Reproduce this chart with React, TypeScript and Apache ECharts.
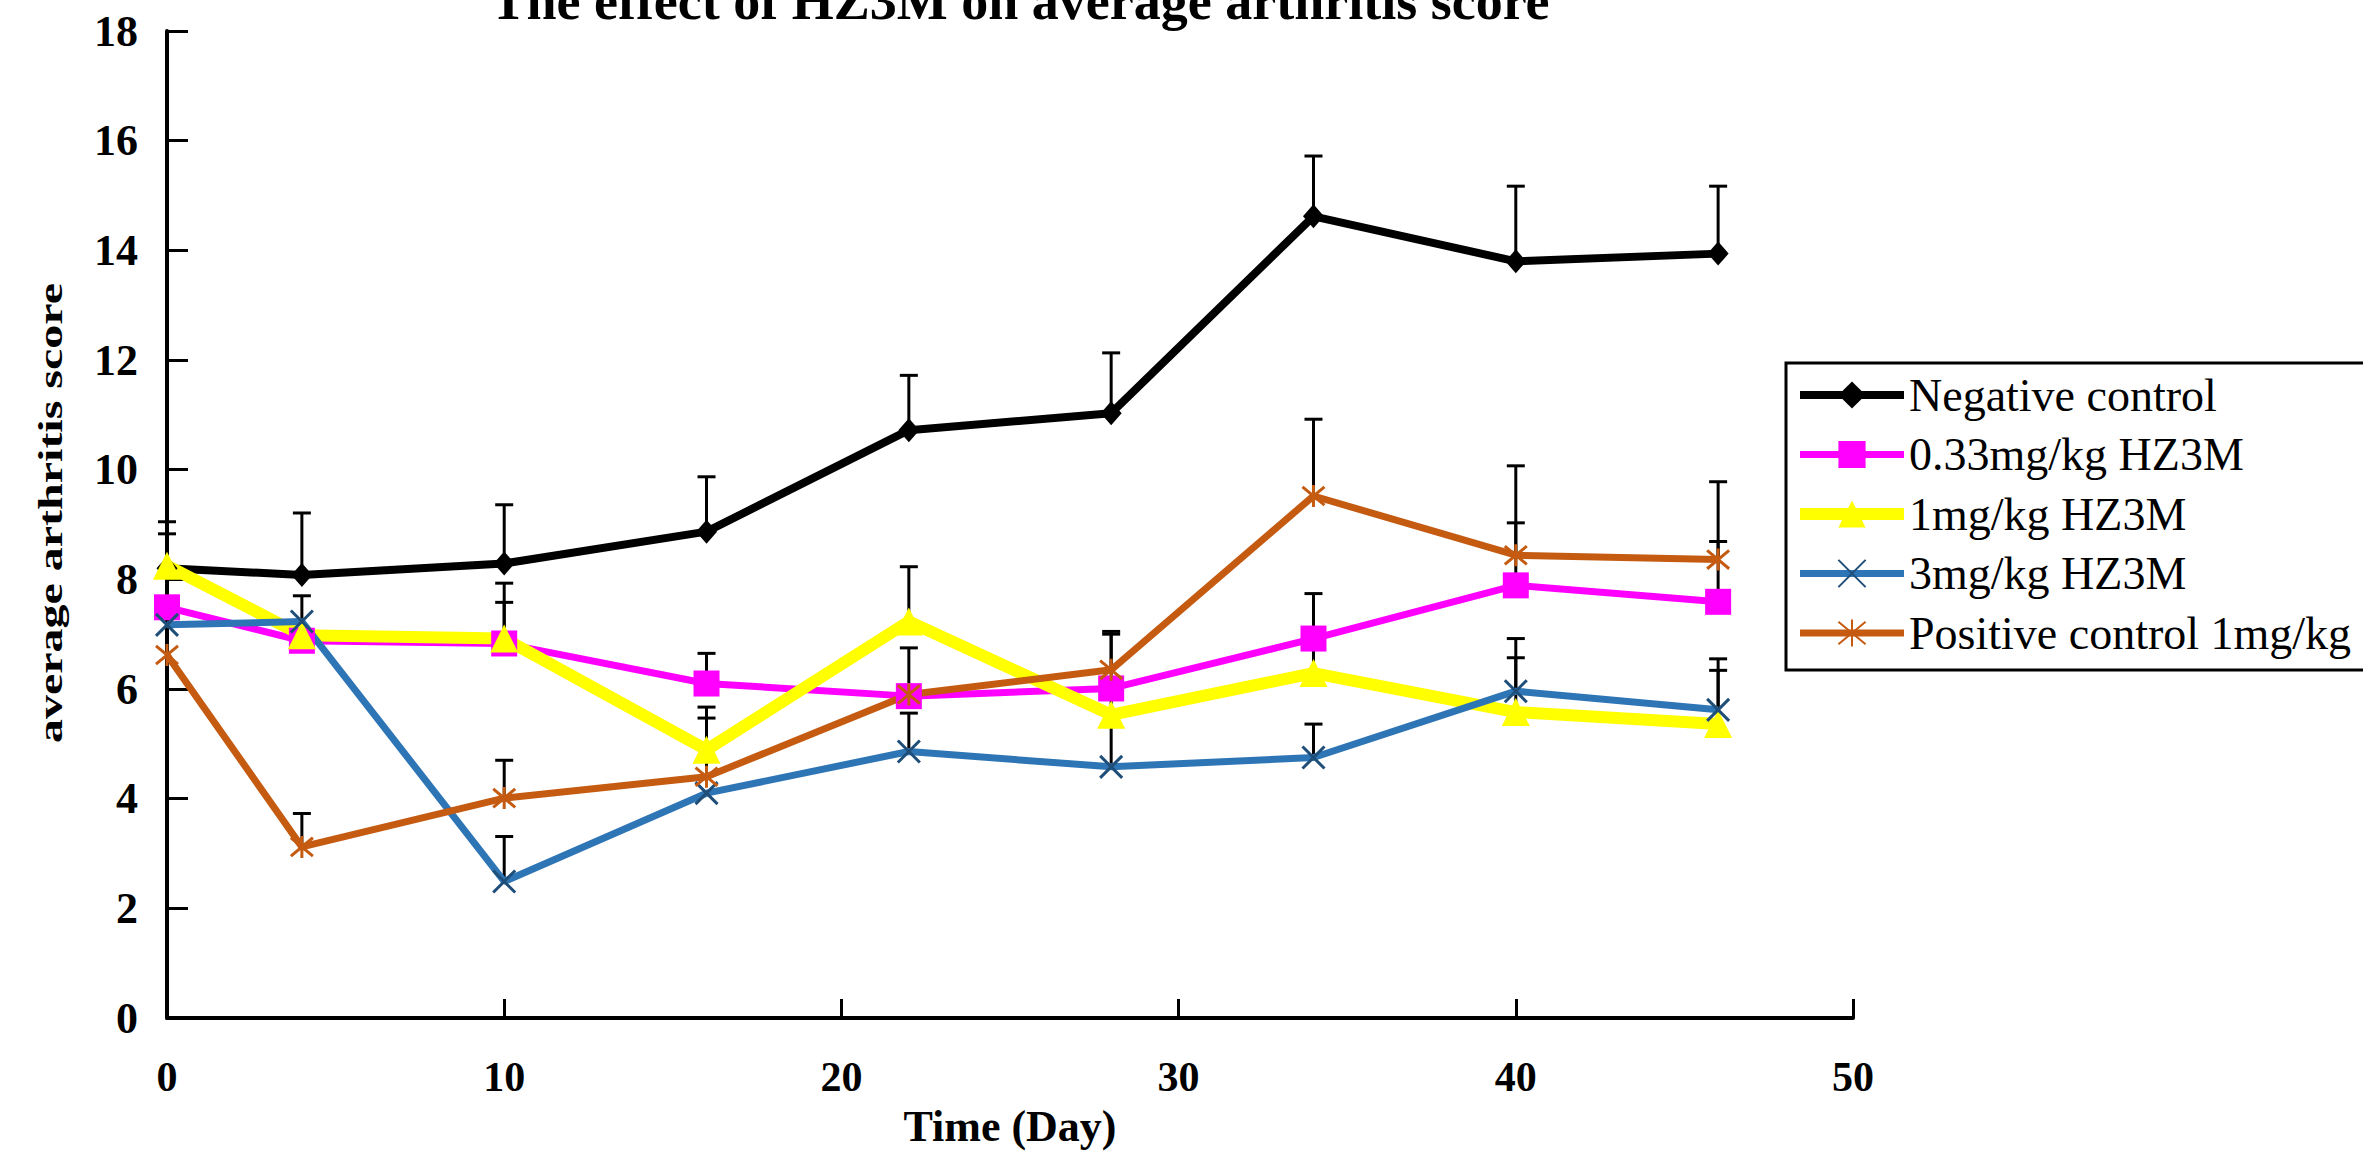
import React, { useEffect, useRef } from 'react';
import * as echarts from 'echarts';

// ---- data ----
const days = [0, 4, 10, 16, 22, 28, 34, 40, 46];
const seriesNames = ['Negative control', '0.33mg/kg HZ3M', '1mg/kg HZ3M', '3mg/kg HZ3M', 'Positive control 1mg/kg'];

const negativeControl = [8.2, 8.08, 8.29, 8.87, 10.72, 11.03, 14.62, 13.8, 13.94];
const negativeControlErr = [0.85, 1.13, 1.07, 1.0, 1.0, 1.1, 1.1, 1.37, 1.23];
const dose033 = [7.49, 6.88, 6.83, 6.1, 5.87, 6.01, 6.92, 7.89, 7.59];
const dose033Err = [null, null, 0.75, 0.55, 0.88, null, 0.82, 1.14, 1.1];
const dose1 = [8.25, 6.98, 6.92, 4.89, 7.23, 5.53, 6.29, 5.58, 5.36];
const dose1Err = [0.58, 0.72, 1.01, 0.78, 1.0, 1.47, 0.6, 0.99, 0.98];
const dose3 = [7.17, 7.23, 2.49, 4.1, 4.86, 4.58, 4.75, 5.96, 5.62];
const dose3Err = [null, null, 0.82, null, 0.7, 1.0, 0.61, 0.96, 0.93];
const positiveControl = [6.62, 3.12, 4.01, 4.4, 5.9, 6.35, 9.52, 8.44, 8.36];
const positiveControlErr = [null, 0.61, 0.69, 1.07, null, 0.7, 1.4, 1.63, 1.42];

const xMin = 0, xMax = 50, xStep = 10;
const yMin = 0, yMax = 18, yStep = 2;

const titleText = 'The effect of HZ3M on average arthritis score';
const xName = 'Time (Day)';
const yName = 'average arthritis score';

const FONT = '"Liberation Serif", "Times New Roman", serif';

const X_PATH = 'path://M0,0L10,10M10,0L0,10';
const STAR_PATH = 'path://M0,0L10,10M10,0L0,10M5,-1L5,11';

const values = [negativeControl, dose033, dose1, dose3, positiveControl];
const errors = [negativeControlErr, dose033Err, dose1Err, dose3Err, positiveControlErr];

const styles = [
  { color: '#000000', width: 8, symbol: 'diamond', size: [21, 24], item: { color: '#000000', borderWidth: 0 } },
  { color: '#FF00FF', width: 7, symbol: 'rect', size: 26, item: { color: '#FF00FF', borderWidth: 0 } },
  { color: '#FFFF00', width: 12, symbol: 'triangle', size: 28, item: { color: '#FFFF00', borderWidth: 0 } },
  { color: '#2E75B6', width: 7, symbol: X_PATH, size: 22, item: { color: '#2E75B6', borderColor: '#1F4E79', borderWidth: 3 } },
  { color: '#C55A11', width: 7, symbol: STAR_PATH, size: 22, item: { color: '#C55A11', borderColor: '#C55A11', borderWidth: 3 } },
];

export default function App() {
  const ref = useRef<HTMLDivElement>(null);

  useEffect(() => {
    if (!ref.current) return;
    const chart = echarts.init(ref.current, null, { renderer: 'svg' });

    const lineSeries = seriesNames.map((name, s) => ({
      name,
      type: 'line',
      data: days.map((d, i) => [d, values[s][i]]),
      symbol: styles[s].symbol,
      symbolSize: styles[s].size,
      showSymbol: true,
      clip: false,
      z: 3,
      lineStyle: { color: styles[s].color, width: styles[s].width },
      itemStyle: styles[s].item,
      color: styles[s].color,
      emphasis: { disabled: true },
    }));

    const errData: number[][] = [];
    values.forEach((vals, s) => {
      vals.forEach((v, i) => {
        const e = errors[s][i];
        if (e != null) errData.push([days[i], v, v + e]);
      });
    });

    const errorSeries = {
      type: 'custom',
      name: 'errors',
      z: 2,
      clip: false,
      data: errData,
      encode: { x: 0, y: [1, 2] },
      renderItem: (params: any, api: any) => {
        const p0 = api.coord([api.value(0), api.value(1)]);
        const p1 = api.coord([api.value(0), api.value(2)]);
        const st = { stroke: '#000', lineWidth: 3, fill: null };
        return {
          type: 'group',
          children: [
            { type: 'line', shape: { x1: p0[0], y1: p0[1], x2: p1[0], y2: p1[1] }, style: st },
            { type: 'line', shape: { x1: p1[0] - 9, y1: p1[1], x2: p1[0] + 9, y2: p1[1] }, style: st },
          ],
        };
      },
    };

    const option: any = {
      animation: false,
      backgroundColor: '#ffffff',
      textStyle: { fontFamily: FONT },
      graphic: [
        {
          type: 'text',
          x: 1020,
          y: 1,
          z: 10,
          style: {
            text: titleText,
            font: `bold 54px ${FONT}`,
            fill: '#000',
            textAlign: 'center',
            textVerticalAlign: 'middle',
            align: 'center',
            verticalAlign: 'middle',
          },
        },
        {
          type: 'text',
          x: 50,
          y: 513,
          rotation: Math.PI / 2,
          scaleY: 0.72,
          z: 10,
          style: {
            text: yName,
            font: `bold 48px ${FONT}`,
            fill: '#000',
            textAlign: 'center',
            textVerticalAlign: 'middle',
            align: 'center',
            verticalAlign: 'middle',
          },
        },
      ],
      grid: { left: 167, right: 510, top: 31, bottom: 135, containLabel: false },
      legend: {
        data: seriesNames,
        orient: 'vertical',
        left: 1786,
        top: 363,
        padding: [9, 15, 14, 8],
        itemWidth: 104,
        itemHeight: 34,
        itemGap: 13.5,
        borderColor: '#000',
        borderWidth: 3,
        backgroundColor: '#fff',
        selectedMode: false,
        lineStyle: { width: 'inherit' },
        textStyle: { fontSize: 46, fontFamily: FONT, color: '#000' },
      },
      xAxis: {
        type: 'value',
        min: xMin,
        max: xMax,
        interval: xStep,
        name: xName,
        nameLocation: 'middle',
        nameGap: 86,
        nameTextStyle: { fontSize: 44, fontWeight: 'bold', fontFamily: FONT, color: '#000' },
        axisLine: { show: true, onZero: false, lineStyle: { color: '#000', width: 4 } },
        axisTick: { show: true, inside: true, length: 19, lineStyle: { color: '#000', width: 3 } },
        axisLabel: { margin: 38, fontSize: 42, fontWeight: 'bold', fontFamily: FONT, color: '#000' },
        splitLine: { show: false },
      },
      yAxis: {
        type: 'value',
        min: yMin,
        max: yMax,
        interval: yStep,
        axisLine: { show: true, onZero: false, lineStyle: { color: '#000', width: 4 } },
        axisTick: { show: true, inside: true, length: 21, lineStyle: { color: '#000', width: 3 } },
        axisLabel: { margin: 29, fontSize: 44, fontWeight: 'bold', fontFamily: FONT, color: '#000' },
        splitLine: { show: false },
      },
      series: [errorSeries, ...lineSeries],
    };

    chart.setOption(option);
    return () => chart.dispose();
  }, []);

  return (
    <div
      ref={ref}
      style={{ position: 'fixed', left: 0, top: 0, width: 2363, height: 1153, background: '#fff' }}
    />
  );
}
